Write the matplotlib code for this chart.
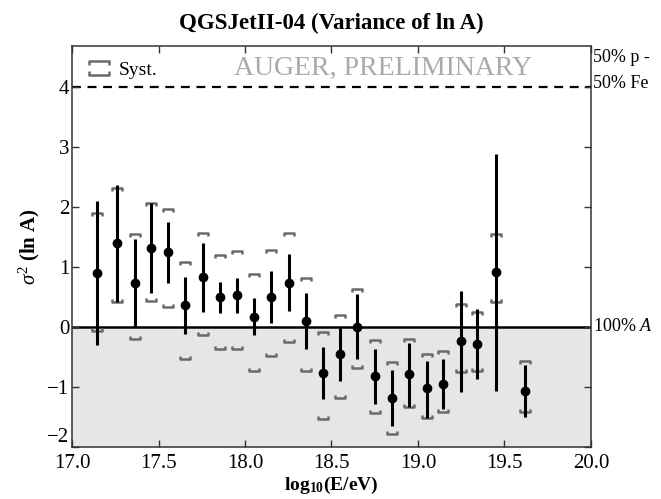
import matplotlib
matplotlib.use("Agg")
import matplotlib.pyplot as plt
from matplotlib.path import Path
from matplotlib.lines import Line2D
import numpy as np

plt.rcParams['font.family'] = ['Liberation Serif', 'DejaVu Serif']
plt.rcParams['mathtext.fontset'] = 'custom'
plt.rcParams['mathtext.rm'] = 'Liberation Serif'
plt.rcParams['mathtext.it'] = 'Liberation Serif:italic'
plt.rcParams['mathtext.bf'] = 'Liberation Serif:bold'

# log10(E/eV) bin centres
log_e = [17.146, 17.262, 17.362, 17.455, 17.555, 17.655, 17.755, 17.855, 17.955,
         18.053, 18.150, 18.253, 18.351, 18.453, 18.549, 18.647, 18.751, 18.851,
         18.951, 19.050, 19.146, 19.249, 19.343, 19.449, 19.620]
# variance of ln A
var_lna = [0.90, 1.40, 0.74, 1.32, 1.245, 0.37, 0.83, 0.505, 0.53, 0.17, 0.50, 0.74,
           0.10, -0.77, -0.45, 0.0, -0.82, -1.18, -0.79, -1.01, -0.95, -0.23, -0.29,
           0.92, -1.06]
# statistical error band (absolute limits)
stat_hi = [2.09, 2.37, 1.47, 2.07, 1.75, 0.84, 1.40, 0.75, 0.82, 0.48, 0.94, 1.22,
           0.57, -0.34, -0.02, 0.545, -0.36, -0.72, -0.27, -0.57, -0.53, 0.605, 0.30,
           2.88, -0.64]
stat_lo = [-0.30, 0.42, 0.0, 0.57, 0.74, -0.12, 0.245, 0.24, 0.23, -0.13, 0.06, 0.26,
           -0.37, -1.205, -0.90, -0.54, -1.28, -1.65, -1.34, -1.52, -1.36, -1.08, -0.87,
           -1.07, -1.495]
# systematic limits (absolute)
syst_hi = [1.89, 2.31, 1.545, 2.07, 1.97, 1.08, 1.57, 1.20, 1.27, 0.89, 1.28, 1.56,
           0.82, -0.09, 0.205, 0.63, -0.22, -0.58, -0.205, -0.45, -0.40, 0.38, 0.25,
           1.55, -0.56]
syst_lo = [-0.06, 0.42, -0.2, 0.44, 0.33, -0.53, -0.13, -0.37, -0.37, -0.73, -0.48,
           -0.255, -0.73, -1.54, -1.19, -0.68, -1.44, -1.78, -1.34, -1.52, -1.42, -0.75,
           -0.73, 0.41, -1.42]

x = np.array(log_e)
y = np.array(var_lna)
yerr = [y - np.array(stat_lo), np.array(stat_hi) - y]

# bracket markers for the systematics
top_br = Path([(-1, -0.6), (-1, 0), (1, 0), (1, -0.6)])
bot_br = Path([(-1, 0.6), (-1, 0), (1, 0), (1, 0.6)])
box_br = Path([(-1, 0.3), (-1, 0.7), (1, 0.7), (1, 0.3),
               (-1, -0.3), (-1, -0.7), (1, -0.7), (1, -0.3)],
              [Path.MOVETO, Path.LINETO, Path.LINETO, Path.LINETO,
               Path.MOVETO, Path.LINETO, Path.LINETO, Path.LINETO])
syst_col = "#6a6a6a"

fig = plt.figure(figsize=(6.61, 4.99), dpi=100)
ax = fig.add_axes([0.109, 0.104, 0.785, 0.804])

ax.axhspan(-2, 0, color="#e6e6e6", zorder=0, lw=0)
ax.axhline(0, color="black", lw=1.8, zorder=1)
ax.axhline(4, color="black", lw=1.6, ls=(0, (4, 3)), zorder=1)

ax.plot(x, syst_hi, ls="none", marker=top_br, ms=7.5, mfc="none",
        mec=syst_col, mew=1.8, zorder=2)
ax.plot(x, syst_lo, ls="none", marker=bot_br, ms=7.5, mfc="none",
        mec=syst_col, mew=1.8, zorder=2)

ax.errorbar(x, y, yerr=yerr, fmt="o", color="black", ms=6, elinewidth=2.2,
            capsize=0, zorder=3)

ax.set_xlim(17.0, 20.0)
ax.set_ylim(-2, 4.68)
ax.set_xticks([17.0, 17.5, 18.0, 18.5, 19.0, 19.5, 20.0])
ax.set_xticklabels(["17.0", "17.5", "18.0", "18.5", "19.0", "19.5", "20.0"])
ax.set_yticks([-2, -1, 0, 1, 2, 3, 4])
ax.set_yticklabels(["\u22122", "\u22121", "0", "1", "2", "3", "4"])
ax.tick_params(direction="in", top=True, right=True, length=5, width=1,
               labelsize=15, color="#333333")
ax.tick_params(axis="x", pad=5)
ax.tick_params(axis="y", pad=2)
# nudge the -2 label up a little so it clears the 17.0 label
ax.get_yticklabels()[0].set_verticalalignment("bottom")
for s in ax.spines.values():
    s.set_color("#333333")
    s.set_linewidth(1.1)

ax.set_title("QGSJetII-04 (Variance of ln A)", fontsize=16.5, fontweight="bold", pad=12)
ax.set_xlabel(r"$\mathbf{log_{10}(E/eV)}$", fontsize=14, labelpad=1)
ax.set_ylabel(r"$\sigma^2\ \mathbf{(ln\ A)}$", fontsize=15, labelpad=4)

ax.text(0.60, 0.945, "AUGER, PRELIMINARY", transform=ax.transAxes, ha="center",
        va="center", fontsize=20, color="#aaaaaa")

rt = ax.get_yaxis_transform()
ax.text(1.004, 4.48, "50% p -", transform=rt, ha="left", va="center", fontsize=13)
ax.text(1.004, 4.05, "50% Fe", transform=rt, ha="left", va="center", fontsize=13)
ax.text(1.004, 0.0, r"100% $A$", transform=rt, ha="left", va="center", fontsize=13)

h = Line2D([], [], ls="none", marker=box_br, ms=14, mfc="none", mec=syst_col, mew=1.8)
ax.legend([h], ["Syst."], loc="upper left", frameon=False, fontsize=14,
          handlelength=1.2, handletextpad=0.4, borderaxespad=0.4,
          bbox_to_anchor=(0.0, 1.0))

fig.savefig("out.png", dpi=100)
